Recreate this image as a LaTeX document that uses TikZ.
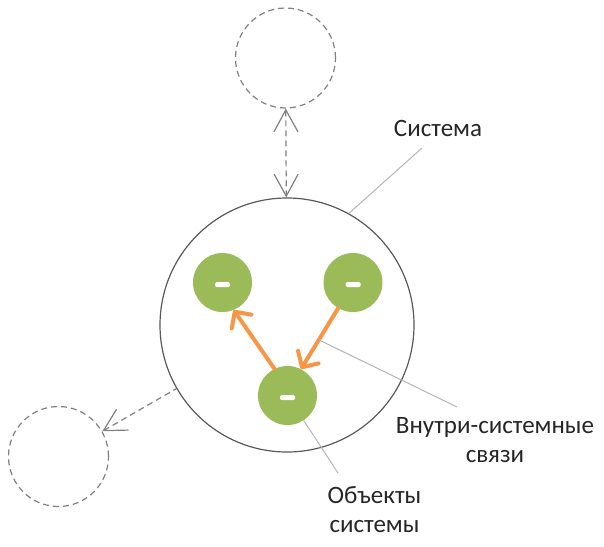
\documentclass[tikz,border=0pt]{standalone}
\usepackage{fontspec}
\setmainfont{Carlito}
\usetikzlibrary{arrows.meta}
\definecolor{objgreen}{RGB}{155,187,89}
\definecolor{linkorange}{RGB}{247,150,70}
\definecolor{labelgray}{RGB}{38,38,38}
\definecolor{pointergray}{RGB}{180,180,180}

\begin{document}
\begin{tikzpicture}[x=1pt,y=-1pt,
  every node/.style={font=\fontsize{25}{29}\selectfont,text=labelgray},
  outer/.style={circle,draw=black!50,dash pattern=on 6pt off 4pt,line width=1.2pt,
    minimum size=100pt,inner sep=0pt},
  object/.style={circle,fill=objgreen,minimum size=59pt,inner sep=0pt,
    path picture={\fill[white,rounded corners=1.5pt]
      ([xshift=-7.5pt,yshift=-4.5pt]path picture bounding box.center) rectangle ++(15pt,5pt);}},
  extlink/.style={black!50,line width=1.2pt,dash pattern=on 6pt off 4pt,
    >={Straight Barb[length=22pt 0 0,width=24pt 0]}},
  link/.style={linkorange,line width=4pt,line join=round,line cap=round,
    -{Straight Barb[length=12pt 0 0,width=24pt 0,line cap=round,line join=round]}},
  pointer/.style={pointergray,line width=1pt}]
  \useasboundingbox (0,0) rectangle (604,546);
  % system and the outer circles
  \node[circle,draw=black!65,line width=1.2pt,minimum size=254pt,inner sep=0pt] (sys) at (287,325) {};
  \node[outer] (top) at (285.5,58) {};
  \node[outer] (left) at (58.5,456.5) {};
  \draw[extlink,<->] (top) -- (sys);
  \draw[extlink,<-] (left) -- (sys);
  % objects of the system
  \node[object] (objl) at (222.5,282.5) {};
  \node[object] (objr) at (353,282.5) {};
  \node[object] (objb) at (287.5,395.5) {};
  \draw[link] (objb.116) -- (objl.292);
  \draw[link] (objr.240) -- coordinate[pos=0.52] (lnk) (objb.63);
  % labels
  \node (lblsys) at (438,128) {Система};
  \node[align=center] (lbllnk) at (495,440) {Внутри-системные\\связи};
  \node[align=center] (lblobj) at (374.5,510) {Объекты\\системы};
  \coordinate (psys) at (422,148);
  \coordinate (plnk) at (457,407);
  \coordinate (pobj) at (338,473);
  \draw[pointer] (sys.61) -- (psys);
  \draw[pointer] (lnk) -- (plnk);
  \draw[pointer] (objb.-57) -- (pobj);
\end{tikzpicture}
\end{document}
